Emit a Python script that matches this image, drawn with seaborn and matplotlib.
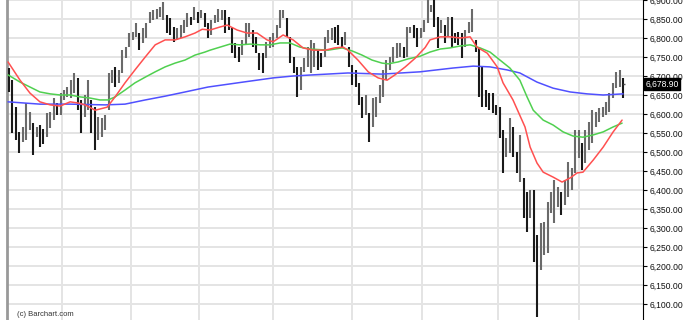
import numpy as np
import pandas as pd
import matplotlib
matplotlib.use("Agg")
import matplotlib.pyplot as plt
import matplotlib.transforms as mtransforms
from matplotlib.ticker import FuncFormatter, FixedLocator
import seaborn as sns

# ---------------- data ----------------
high = [6721, 6689, 6618, 6553, 6566, 6629, 6605, 6576, 6566, 6571,
        6560, 6602, 6605, 6642, 6629, 6655, 6663, 6671, 6689, 6708,
        6695, 6637, 6650, 6689, 6637, 6618, 6592, 6589, 6597, 6708,
        6716, 6724, 6716, 6768, 6776, 6813, 6816, 6839, 6813, 6826,
        6839, 6868, 6873, 6876, 6881, 6895, 6860, 6852, 6829, 6826,
        6834, 6847, 6865, 6855, 6881, 6868, 6873, 6865, 6839,
        6847, 6860, 6876, 6873, 6873, 6855, 6826, 6787, 6776, 6795,
        6839, 6839, 6821, 6803, 6760, 6760, 6790, 6803, 6813, 6834,
        6873, 6873, 6852, 6803, 6750, 6724, 6724, 6747, 6776, 6795, 6787,
        6770, 6760, 6803, 6821, 6826, 6829, 6834, 6803, 6816, 6776,
        6729, 6716, 6681, 6645, 6650, 6603, 6642, 6645, 6676, 6716,
        6742, 6750, 6776, 6787, 6787, 6776, 6829, 6829, 6834, 6826,
        6826, 6847, 6900, 6887, 6900, 6855, 6847, 6834, 6855, 6855,
        6813, 6816, 6813, 6821, 6842, 6876, 6795, 6776, 6724, 6663,
        6655, 6655, 6624, 6618, 6558, 6537, 6589, 6566, 6500,
        6545, 6432, 6395, 6400, 6400, 6282, 6313, 6316, 6368, 6395,
        6426, 6408, 6395, 6426, 6474, 6458, 6558, 6558, 6524, 6558,
        6579, 6610, 6605, 6616, 6618, 6632, 6655, 6682, 6711, 6716, 6695]
low = [6658, 6550, 6532, 6497, 6526, 6532, 6558, 6492, 6540, 6513,
       6520, 6539, 6563, 6584, 6597, 6597, 6637, 6645, 6642, 6655,
       6610, 6550, 6592, 6610, 6550, 6505, 6532, 6539, 6558, 6610,
       6682, 6671, 6682, 6708, 6747, 6776, 6795, 6803, 6768, 6787,
       6800, 6839, 6847, 6850, 6855, 6847, 6813, 6808, 6790, 6795,
       6800, 6813, 6829, 6834, 6847, 6839, 6852, 6829, 6800,
       6808, 6839, 6842, 6847, 6813, 6821, 6760, 6747, 6737, 6755,
       6782, 6803, 6776, 6760, 6716, 6708, 6747, 6774, 6776, 6800,
       6826, 6852, 6803, 6734, 6708, 6645, 6663, 6711, 6724, 6708, 6724,
       6715, 6724, 6750, 6787, 6795, 6787, 6782, 6776, 6782, 6724,
       6676, 6671, 6624, 6589, 6597, 6526, 6566, 6592, 6629, 6645,
       6689, 6716, 6737, 6747, 6750, 6747, 6750, 6813, 6800, 6776,
       6800, 6816, 6839, 6868, 6829, 6774, 6813, 6787, 6803, 6776,
       6787, 6782, 6747, 6776, 6813, 6816, 6763, 6645, 6618, 6618,
       6610, 6603, 6597, 6537, 6445, 6487, 6497, 6487, 6445,
       6421, 6326, 6289, 6326, 6210, 6066, 6189, 6229, 6234, 6340,
       6313, 6355, 6334, 6361, 6382, 6400, 6445, 6484, 6453, 6471,
       6505, 6524, 6566, 6579, 6592, 6597, 6605, 6642, 6668, 6671, 6642]
last_close = 6678.90

# moving averages (bar index, value)
red_idx = [-0.3, 3.2, 6.1, 9, 12, 14.9, 17.8, 20.1, 22.2, 25.1, 28.6, 30.9, 33.8,
           36.7, 39.7, 42.6, 45.5, 48.4, 51.3, 54.2, 56.3, 58.6, 61.5, 63.6, 66.5,
           69.4, 72.3, 75.2, 77, 79.9, 82.8, 85.7, 88.6, 92.1, 95, 97.4, 98.8,
           101.7, 104.7, 107.6, 110.2, 112.5, 115.5, 118.4, 121.3, 122.7, 125.7,
           128.6, 131.5, 134.4, 136.4, 139.4, 142.3, 144, 146.9, 150.4, 151.9,
           153.9, 155.7, 158.6, 161.2, 163.6, 165.6, 167.3, 170.3, 173.2, 176.1, 178.7]
red_ma = [6737, 6689, 6655, 6632, 6624, 6621, 6632, 6629, 6624, 6610, 6618, 6645, 6682,
          6716, 6750, 6782, 6795, 6795, 6803, 6813, 6823, 6821, 6829, 6834, 6821,
          6813, 6813, 6795, 6790, 6808, 6795, 6774, 6768, 6768, 6774, 6776, 6768,
          6742, 6711, 6695, 6689, 6703, 6724, 6747, 6775, 6795, 6803,
          6803, 6800, 6803, 6776, 6760, 6724, 6682, 6637, 6566, 6513,
          6471, 6447, 6434, 6421, 6432, 6445, 6447, 6479, 6513, 6553, 6584]
green_idx = [-0.3, 3.2, 6.1, 9, 12, 14.9, 17.8, 20.7, 23.6, 26.5, 28.9, 30.9, 33.8,
             36.7, 39.7, 42.6, 45.5, 48.4, 51.3, 54.2, 57.1, 58.6, 61.5, 64.4, 67.3,
             70.3, 73.2, 76.1, 79, 81.9, 84.8, 87.8, 93, 97.1, 100, 102.9, 105.8,
             108.7, 110.5, 113.4, 116.3, 119.8, 122.7, 125.7, 128.6, 131.5, 134.4,
             137.3, 140.2, 143.1, 146, 148.9, 151, 152.8, 155.7, 158.6, 161.5,
             164.4, 167.3, 170.3, 173.2, 176.1, 178.7]
green_ma = [6703, 6684, 6671, 6658, 6653, 6650, 6650, 6645, 6642, 6637, 6637, 6645, 6663,
            6682, 6697, 6711, 6724, 6734, 6742, 6755, 6763, 6768, 6776, 6784, 6782,
            6784, 6782, 6782, 6787, 6787, 6776, 6771, 6768, 6774, 6766, 6755, 6742,
            6734, 6732, 6737, 6745, 6752, 6763, 6771, 6774, 6779, 6782,
            6774, 6763, 6742, 6721, 6689, 6645, 6610, 6584, 6571, 6553,
            6542, 6539, 6545, 6553, 6566, 6576]
blue_idx = [-0.3, 9, 17.8, 28, 33.8, 39.7, 45.5, 51.3, 58, 68.2, 77, 82.8, 88.6,
            98.8, 108.7, 119.8, 129.4, 135.3, 140.2, 145.2, 148.9, 153.9, 158.6,
            163.6, 168.5, 173.2, 179]
blue_ma = [6632, 6626, 6626, 6624, 6626, 6637, 6647, 6658, 6671, 6684, 6695, 6700, 6703,
           6708, 6705, 6711, 6721, 6726, 6724, 6716, 6708, 6684, 6668,
           6658, 6653, 6650, 6653]

month_breaks = [15.5, 35.5, 55.5, 77, 100, 120.5, 142.5, 166]
price_ticks = list(range(6100, 6901, 50))

# ---------------- figure ----------------
sns.set_theme(style="white")
plt.rcParams['font.family'] = ['Liberation Sans', 'DejaVu Sans']

fig = plt.figure(figsize=(6.85, 3.2), dpi=100)
ax = fig.add_axes([7 / 685, 0, (643 - 7) / 685, 1])

bars = pd.DataFrame({"bar": np.arange(len(high)), "high": high, "low": low})
mid = (bars["high"] + bars["low"]) / 2
up = mid.diff().fillna(0) > 0
colors = np.where(up, "#6a6a6a", "#1a1a1a")
ax.vlines(bars["bar"], bars["low"], bars["high"], colors=colors, lw=1.5, zorder=3)
ax.hlines(last_close, len(high) - 1, len(high) - 0.4, color="#555555", lw=1, zorder=3)

for idx, vals, col in [(blue_idx, blue_ma, "#5050ff"),
                       (green_idx, green_ma, "#50d050"),
                       (red_idx, red_ma, "#ff5050")]:
    sns.lineplot(x=idx, y=vals, ax=ax, color=col, lw=1.1, zorder=4, sort=False)

ax.set_xlim(-0.6, 184.8)
ax.set_ylim(6058, 6900)

ax.yaxis.tick_right()
ax.yaxis.set_major_locator(FixedLocator(price_ticks))
ax.yaxis.set_major_formatter(FuncFormatter(lambda v, p: f"{v:,.2f}"))
ax.tick_params(axis="y", direction="out", length=3, width=0.8, color="#000000",
               labelsize=6.2, pad=2, labelcolor="#111111")
ax.xaxis.set_major_locator(FixedLocator(month_breaks))
ax.tick_params(axis="x", length=0, labelbottom=False)
ax.set_xlabel("")
ax.set_ylabel("")
ax.grid(True, color="#e4e4e4", lw=1.4, zorder=0)
ax.set_axisbelow(True)

for s in ["top", "bottom"]:
    ax.spines[s].set_visible(False)
ax.spines["left"].set_color("#999999")
ax.spines["left"].set_linewidth(2)
ax.spines["right"].set_color("#000000")
ax.spines["right"].set_linewidth(0.8)

trans = mtransforms.blended_transform_factory(ax.transAxes, ax.transData)
ax.text(1.004, last_close, f"{last_close:,.2f}", transform=trans, fontsize=6.2,
        color="white", va="center", ha="left", zorder=6,
        bbox=dict(boxstyle="square,pad=0.15", fc="black", ec="black"))

fig.text(17 / 685, 1 - 314 / 320, "(c) Barchart.com", fontsize=5.5,
         color="#333333", va="center", ha="left")

fig.savefig("out.png", dpi=100)
